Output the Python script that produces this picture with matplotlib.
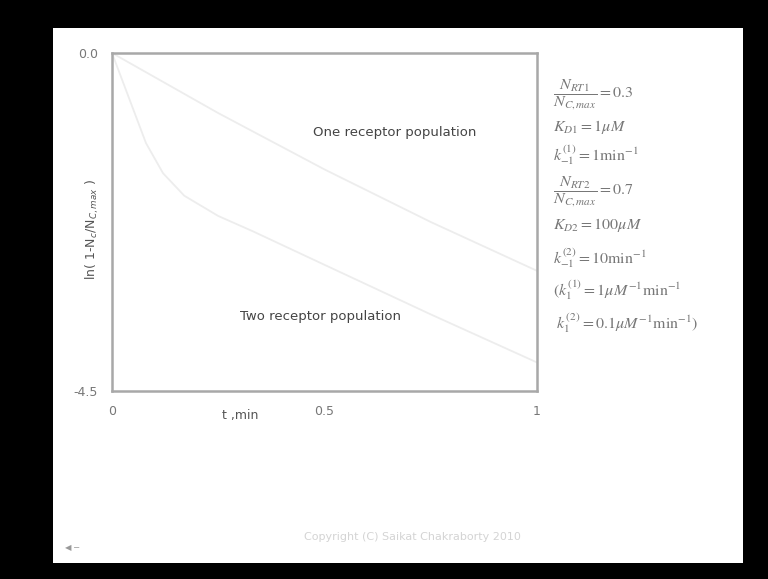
import matplotlib.pyplot as plt
from matplotlib.patches import Rectangle

# values
t_one = [0.0, 0.25, 0.5, 0.75, 1.0]
y_one = [0.0, -0.8, -1.55, -2.25, -2.9]

t_two = [0.0, 0.04, 0.08, 0.12, 0.17, 0.25, 0.33, 0.5, 0.75, 1.0]
y_two = [0.0, -0.6, -1.2, -1.6, -1.9, -2.17, -2.37, -2.82, -3.48, -4.12]

xticks = [0, 0.5, 1]
xtick_labels = ['0', '0.5', '1']
yticks = [0.0, -4.5]
ytick_labels = ['0.0', '-4.5']

params = [
    r'$\dfrac{N_{RT1}}{N_{C,max}} = 0.3$',
    r'$K_{D1} = 1\mu M$',
    r'$k_{-1}^{(1)} = 1\mathrm{min}^{-1}$',
    r'$\dfrac{N_{RT2}}{N_{C,max}} = 0.7$',
    r'$K_{D2} = 100\mu M$',
    r'$k_{-1}^{(2)} = 10\mathrm{min}^{-1}$',
    r'$(k_1^{(1)} = 1\mu M^{-1}\mathrm{min}^{-1}$',
    r'$\ k_1^{(2)} = 0.1\mu M^{-1}\mathrm{min}^{-1})$',
]
param_y = [95, 127, 155, 192, 225, 258, 290, 323]

W, H = 768, 579
fig = plt.figure(figsize=(W / 100, H / 100), dpi=100, facecolor='black')
fig.patches.append(Rectangle((53 / W, 1 - 563 / H), 690 / W, 535 / H,
                             transform=fig.transFigure, facecolor='white',
                             edgecolor='none', zorder=-5))

ax = fig.add_axes([112 / W, 1 - 391 / H, 425 / W, 338 / H])
ax.plot(t_one, y_one, color='#ededed', lw=1.3)
ax.plot(t_two, y_two, color='#ededed', lw=1.3)
ax.set_xlim(0, 1)
ax.set_ylim(-4.5, 0)
for s in ax.spines.values():
    s.set_color('#a8a8a8')
    s.set_linewidth(1.8)
ax.set_xticks(xticks)
ax.set_xticklabels(xtick_labels)
ax.set_yticks(yticks)
ax.set_yticklabels(ytick_labels)
ax.tick_params(length=0, colors='#777777', labelsize=9, pad=10)
ax.set_facecolor('white')

ax.text(0.665, 0.765, 'One receptor population', transform=ax.transAxes,
        ha='center', va='center', fontsize=9.5, color='#444444')
ax.text(0.49, 0.22, 'Two receptor population', transform=ax.transAxes,
        ha='center', va='center', fontsize=9.5, color='#444444')

fig.text(240 / W, 1 - 416 / H, 't ,min', ha='center', va='center',
         fontsize=9, color='#555555')
fig.text(92 / W, 1 - 230 / H, r'ln( 1-N$_c$/N$_{C,max}$ )', rotation=90,
         ha='center', va='center', fontsize=9, color='#555555')

for p, yy in zip(params, param_y):
    fig.text(553 / W, 1 - yy / H, p, ha='left', va='center', fontsize=11.5,
             color='#777777', math_fontfamily='stix')

fig.text(412 / W, 1 - 537 / H, 'Copyright (C) Saikat Chakraborty 2010',
         ha='center', va='center', fontsize=8, color='#d4d4d4')
fig.text(72 / W, 1 - 548 / H, '\u25c0 \u2500', ha='center', va='center',
         fontsize=6, color='#999999')

fig.savefig('out.png', dpi=100, facecolor='black')
